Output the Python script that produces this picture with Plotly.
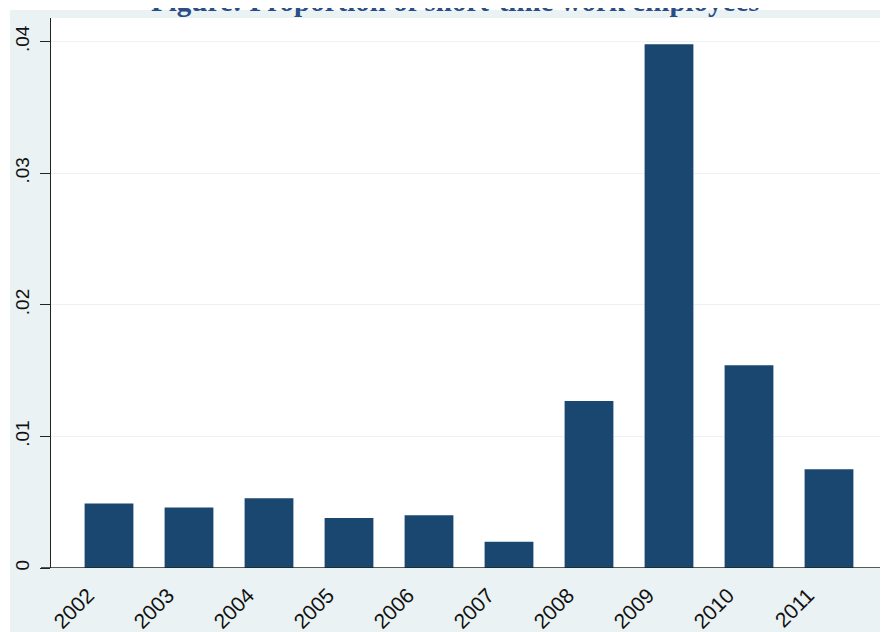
import plotly.graph_objects as go

years = ["2002", "2003", "2004", "2005", "2006", "2007", "2008", "2009", "2010", "2011"]
share = [0.0049, 0.0046, 0.0053, 0.0038, 0.0040, 0.0020, 0.0127, 0.0398, 0.0154, 0.0075]
y_ticks = [0, 0.01, 0.02, 0.03, 0.04]
y_ticktext = ["0", ".01", ".02", ".03", ".04"]

pos = list(range(len(years)))

fig = go.Figure()
fig.add_trace(go.Bar(
    x=pos, y=share, width=0.61,
    marker=dict(color="#1A476F", line=dict(width=0)),
    hoverinfo="skip",
))

# the page adds an 8px body margin, so the figure starts at (8, 8)
W, H = 880, 624
L, R, T, B = 43, 1, 10, 64
pw, ph = W - L - R, H - T - B

def px_x(p):
    return (p - L) / pw

def px_y(p):
    return (H - B - p) / ph

fig.update_layout(
    width=W, height=H,
    margin=dict(l=L, r=R, t=T, b=B, autoexpand=False),
    paper_bgcolor="#EAF2F3",
    plot_bgcolor="white",
    showlegend=False,
    bargap=0.39,
    xaxis=dict(
        range=[-0.725, 9.725],
        tickmode="array",
        tickvals=[p - 0.26 for p in pos],
        ticktext=years,
        tickangle=-45,
        ticks="",
        showgrid=False,
        zeroline=False,
        showline=False,
        ticklabelstandoff=10,
        tickfont=dict(family="Liberation Sans", size=21, color="#111"),
    ),
    yaxis=dict(
        range=[0, 0.0418],
        tickmode="array",
        tickvals=y_ticks,
        ticktext=y_ticktext,
        tickangle=-90,
        ticks="outside",
        ticklen=10,
        tickwidth=1,
        tickcolor="#222",
        showline=True,
        linecolor="#222",
        linewidth=1,
        showgrid=True,
        gridcolor="#EAF2F3",
        gridwidth=1,
        zeroline=False,
        ticklabelstandoff=3,
        tickfont=dict(family="Liberation Sans", size=19, color="#111"),
    ),
    annotations=[
        dict(text="<b>Figure: Proportion of short-time work employees</b>",
             xref="paper", yref="paper", x=px_x(447), y=px_y(-7),
             xanchor="center", yanchor="middle", showarrow=False,
             font=dict(family="Liberation Serif", size=29, color="#2A4D85")),
    ],
    shapes=[
        # white strips at the top and left of the figure
        dict(type="rect", xref="paper", yref="paper",
             x0=px_x(-5), x1=px_x(W + 5), y0=px_y(2), y1=px_y(-5),
             fillcolor="white", line=dict(width=0), layer="below"),
        dict(type="rect", xref="paper", yref="paper",
             x0=px_x(-5), x1=px_x(2), y0=px_y(H + 5), y1=px_y(-5),
             fillcolor="white", line=dict(width=0), layer="below"),
        # baseline at zero extending left over the tick
        dict(type="line", xref="paper", yref="y",
             x0=px_x(L - 10), x1=1, y0=0, y1=0,
             line=dict(color="#222", width=1.5)),
    ],
)

fig.write_html("out.html")
